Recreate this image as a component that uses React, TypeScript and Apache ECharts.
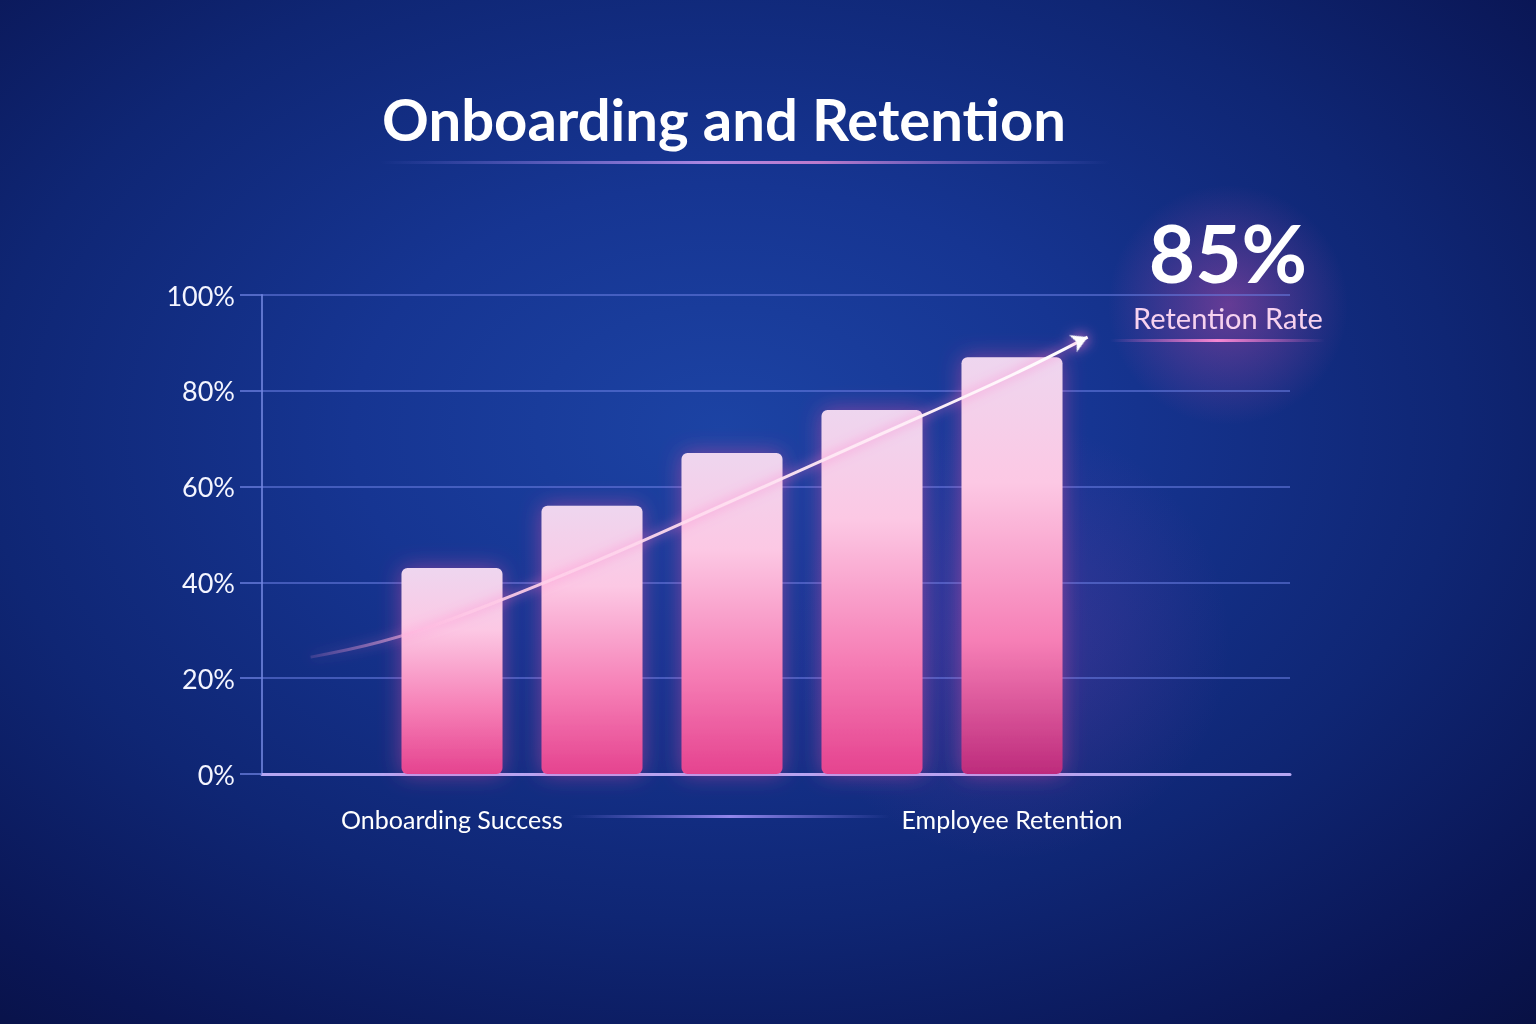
import React, { useEffect, useRef } from "react";
import * as echarts from "echarts";

const categories = ["Onboarding Success", "", "", "", "Employee Retention"];
const barValues = [43, 56, 67, 76, 87];
const yTicks = [0, 20, 40, 60, 80, 100];
const trendX = [-1.01, -0.51, 0, 1, 2, 3, 4, 4.54];
const trendY = [24.4, 27.6, 32.4, 44.1, 57.0, 70.1, 83.3, 91.2];
const headline = "85%";
const headlineSub = "Retention Rate";
const title = "Onboarding and Retention";

const FONT = "Lato, 'Open Sans', 'Noto Sans', sans-serif";

export default function App() {
  const ref = useRef<HTMLDivElement>(null);
  useEffect(() => {
    if (!ref.current) return;
    const chart = echarts.init(ref.current, null, { renderer: "svg" });
    const barGrad = (deep: boolean) =>
      new echarts.graphic.LinearGradient(0, 0, 0, 1, [
        { offset: 0, color: "#eed6ef" },
        { offset: 0.3, color: "#fcc8e4" },
        { offset: 0.68, color: "#f67fb6" },
        { offset: 1, color: deep ? "#bd2b7c" : "#e5438f" },
      ]);
    const trendData = trendX.map((x, i) => {
      const item: any = { value: [x, trendY[i]] };
      if (i === trendX.length - 1) {
        item.symbol = "arrow";
        item.symbolSize = [14, 16];
        item.symbolRotate = -66;
        item.itemStyle = { color: "#ffffff", shadowBlur: 14, shadowColor: "rgba(255,120,200,0.9)" };
      }
      return item;
    });
    chart.setOption({
      animation: false,
      backgroundColor: {
        type: "radial",
        x: 0.47,
        y: 0.42,
        r: 0.8,
        colorStops: [
          { offset: 0, color: "#1c43a4" },
          { offset: 0.3, color: "#163592" },
          { offset: 0.6, color: "#0f2674" },
          { offset: 0.85, color: "#0a1655" },
          { offset: 1, color: "#081042" },
        ],
      },
      grid: [
        { left: 262, right: 246, top: 295, bottom: 250 },
        { left: 382, width: 700, top: 295, bottom: 250 },
        { left: 242, width: 980, top: 295, bottom: 250 },
      ],
      xAxis: [
        {
          gridIndex: 0,
          type: "category",
          data: [""],
          axisLine: { show: true, lineStyle: { color: "#b6a6f2", width: 3 } },
          axisTick: { show: false },
          axisLabel: { show: false },
        },
        {
          gridIndex: 1,
          type: "category",
          data: categories,
          axisLine: { show: false },
          axisTick: { show: false },
          axisLabel: {
            interval: 0,
            color: "#ffffff",
            fontSize: 25,
            fontFamily: FONT,
            margin: 32,
          },
        },
        { gridIndex: 2, type: "value", min: -1.5, max: 5.5, show: false },
      ],
      yAxis: [
        {
          gridIndex: 0,
          type: "value",
          min: 0,
          max: 100,
          interval: 20,
          axisLine: { show: true, lineStyle: { color: "rgba(120,140,230,0.75)", width: 2 } },
          axisTick: { show: true, length: 22, lineStyle: { color: "rgba(110,130,225,0.7)", width: 2 } },
          axisLabel: {
            formatter: (v: number) => (yTicks.includes(v) ? v + "%" : ""),
            color: "#f4f5ff",
            fontSize: 27,
            fontFamily: FONT,
            margin: 27,
          },
          splitLine: { show: true, lineStyle: { color: "rgba(105,125,225,0.55)", width: 2 } },
        },
        { gridIndex: 1, type: "value", min: 0, max: 100, show: false },
        { gridIndex: 2, type: "value", min: 0, max: 100, show: false },
      ],
      graphic: [
        {
          type: "circle",
          shape: { cx: 1228, cy: 305, r: 120 },
          style: {
            fill: new echarts.graphic.RadialGradient(0.5, 0.5, 0.5, [
              { offset: 0, color: "rgba(225,80,175,0.4)" },
              { offset: 1, color: "rgba(225,80,175,0)" },
            ]),
          },
          silent: true,
          z: -1,
        },
        {
          type: "circle",
          shape: { cx: 1010, cy: 640, r: 220 },
          style: {
            fill: new echarts.graphic.RadialGradient(0.5, 0.5, 0.5, [
              { offset: 0, color: "rgba(200,70,190,0.2)" },
              { offset: 1, color: "rgba(200,70,190,0)" },
            ]),
          },
          silent: true,
          z: -1,
        },
        {
          type: "text",
          x: 724,
          y: 118,
          style: {
            text: title,
            fill: "#ffffff",
            font: `bold 58px ${FONT}`,
            textAlign: "center",
            textVerticalAlign: "middle",
          },
        },
        {
          type: "rect",
          shape: { x: 380, y: 161, width: 730, height: 3 },
          style: {
            fill: new echarts.graphic.LinearGradient(0, 0, 1, 0, [
              { offset: 0, color: "rgba(160,140,255,0)" },
              { offset: 0.45, color: "rgba(200,150,240,0.85)" },
              { offset: 0.6, color: "rgba(230,140,220,0.8)" },
              { offset: 1, color: "rgba(160,140,255,0)" },
            ]),
          },
        },
        {
          type: "text",
          x: 1228,
          y: 252,
          style: {
            text: headline,
            fill: "#ffffff",
            font: `bold 80px ${FONT}`,
            textAlign: "center",
            textVerticalAlign: "middle",
          },
        },
        {
          type: "text",
          x: 1228,
          y: 317,
          style: {
            text: headlineSub,
            fill: "#f7d2ef",
            font: `29px ${FONT}`,
            textAlign: "center",
            textVerticalAlign: "middle",
          },
        },
        {
          type: "rect",
          shape: { x: 1110, y: 339, width: 215, height: 3 },
          style: {
            fill: new echarts.graphic.LinearGradient(0, 0, 1, 0, [
              { offset: 0, color: "rgba(255,120,210,0)" },
              { offset: 0.5, color: "rgba(255,140,215,0.95)" },
              { offset: 1, color: "rgba(255,120,210,0)" },
            ]),
          },
        },
        {
          type: "rect",
          shape: { x: 570, y: 815, width: 320, height: 3 },
          style: {
            fill: new echarts.graphic.LinearGradient(0, 0, 1, 0, [
              { offset: 0, color: "rgba(150,140,255,0)" },
              { offset: 0.5, color: "rgba(170,150,255,0.85)" },
              { offset: 1, color: "rgba(150,140,255,0)" },
            ]),
          },
        },
      ],
      series: [
        {
          type: "bar",
          xAxisIndex: 1,
          yAxisIndex: 1,
          barWidth: 101,
          data: barValues.map((v, i) => ({
            value: v,
            itemStyle: {
              color: barGrad(i === barValues.length - 1),
              borderRadius: 6,
              shadowBlur: 22,
              shadowColor: "rgba(255,80,170,0.45)",
            },
          })),
          z: 2,
        },
        {
          type: "line",
          xAxisIndex: 2,
          yAxisIndex: 2,
          smooth: 0.4,
          symbol: "none",
          data: trendData,
          lineStyle: {
            width: 3,
            color: new echarts.graphic.LinearGradient(0, 0, 1, 0, [
              { offset: 0, color: "rgba(255,150,210,0.15)" },
              { offset: 0.2, color: "rgba(255,200,230,0.9)" },
              { offset: 1, color: "#ffffff" },
            ]),
            shadowBlur: 12,
            shadowColor: "rgba(255,110,200,0.9)",
          },
          z: 5,
        },
      ],
    });
    return () => chart.dispose();
  }, []);
  return (
    <div
      ref={ref}
      style={{ position: "fixed", left: 0, top: 0, width: 1536, height: 1024 }}
    />
  );
}
